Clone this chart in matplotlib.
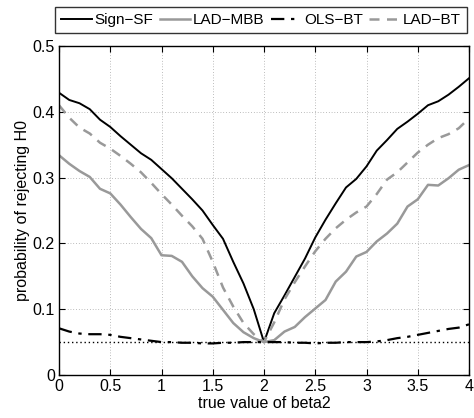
import numpy as np
import matplotlib
matplotlib.use("Agg")
import matplotlib.pyplot as plt

plt.rcParams['font.family'] = ['Liberation Sans', 'DejaVu Sans']

beta2 = np.round(np.arange(0, 4.01, 0.1), 2)

sign_sf = [0.429, 0.418, 0.413, 0.404, 0.388, 0.377, 0.363, 0.350, 0.337, 0.327,
           0.313, 0.299, 0.283, 0.267, 0.250, 0.228, 0.207, 0.172, 0.139, 0.100,
           0.050, 0.094, 0.121, 0.149, 0.177, 0.209, 0.236, 0.261, 0.285, 0.298,
           0.317, 0.341, 0.357, 0.374, 0.385, 0.397, 0.410, 0.416, 0.426, 0.438, 0.451]

lad_mbb = [0.334, 0.321, 0.310, 0.301, 0.283, 0.276, 0.259, 0.240, 0.222, 0.208,
           0.182, 0.181, 0.172, 0.150, 0.132, 0.119, 0.099, 0.079, 0.065, 0.056,
           0.050, 0.053, 0.066, 0.073, 0.088, 0.101, 0.114, 0.142, 0.157, 0.180,
           0.187, 0.203, 0.215, 0.230, 0.256, 0.267, 0.289, 0.288, 0.299, 0.312, 0.319]

ols_bt = [0.071, 0.066, 0.063, 0.062, 0.062, 0.061, 0.058, 0.056, 0.054, 0.052,
          0.050, 0.050, 0.049, 0.049, 0.048, 0.048, 0.049, 0.049, 0.050, 0.050,
          0.050, 0.050, 0.050, 0.049, 0.049, 0.048, 0.049, 0.049, 0.050, 0.050,
          0.050, 0.051, 0.053, 0.056, 0.058, 0.061, 0.064, 0.067, 0.070, 0.072, 0.077]

lad_bt = [0.410, 0.391, 0.376, 0.367, 0.353, 0.344, 0.333, 0.321, 0.308, 0.292,
          0.275, 0.259, 0.242, 0.226, 0.207, 0.172, 0.133, 0.104, 0.079, 0.062,
          0.050, 0.080, 0.115, 0.141, 0.165, 0.188, 0.207, 0.223, 0.236, 0.247,
          0.256, 0.275, 0.297, 0.308, 0.323, 0.338, 0.350, 0.360, 0.366, 0.375, 0.390]

nominal_level = 0.05
x_ticks = [0, 0.5, 1, 1.5, 2, 2.5, 3, 3.5, 4]
x_tick_labels = ["0", "0.5", "1", "1.5", "2", "2.5", "3", "3.5", "4"]
y_ticks = [0, 0.1, 0.2, 0.3, 0.4, 0.5]
y_tick_labels = ["0", "0.1", "0.2", "0.3", "0.4", "0.5"]

fig = plt.figure(figsize=(4.74, 4.18), dpi=100)
ax = fig.add_axes([59/474, 1-375/418, (469-59)/474, (375-46)/418])

gray = '#999999'
l1, = ax.plot(beta2, sign_sf, color='black', lw=1.4, label='Sign−SF')
l2, = ax.plot(beta2, lad_mbb, color=gray, lw=1.8, label='LAD−MBB')
l3, = ax.plot(beta2, ols_bt, color='black', lw=1.6, linestyle=(0, (6, 3, 1.5, 3)), label='OLS−BT')
l4, = ax.plot(beta2, lad_bt, color=gray, lw=1.8, linestyle=(0, (4, 3)), label='LAD−BT')
ax.plot([beta2[0], beta2[-1]], [nominal_level, nominal_level], color='black', lw=1.0,
        linestyle=(0, (1, 2)), zorder=1)

ax.set_xlim(0, 4)
ax.set_ylim(0, 0.5)
ax.set_xticks(x_ticks)
ax.set_xticklabels(x_tick_labels)
ax.set_yticks(y_ticks)
ax.set_yticklabels(y_tick_labels)
ax.tick_params(direction='in', top=True, right=True, labelsize=11.5, length=4, width=0.8, pad=3)
ax.grid(True, color='0.5', linestyle=(0, (1, 3)), lw=0.5)
for s in ax.spines.values():
    s.set_linewidth(1.0)
ax.set_xlabel('true value of beta2', fontsize=11.5, labelpad=1)
ax.set_ylabel('probability of rejecting H0', fontsize=11.5, labelpad=2)

leg = fig.legend(handles=[l1, l2, l3, l4], loc='lower left', ncol=4, mode='expand',
                 bbox_to_anchor=(55/474, 1-33/418, (467-55)/474, 28/418),
                 fontsize=11, frameon=True, fancybox=False, handlelength=2.0,
                 handletextpad=0.2, columnspacing=0.2, borderpad=0.4, borderaxespad=0)
leg.get_frame().set_edgecolor('black')
leg.get_frame().set_linewidth(1.0)

fig.savefig('out.png', dpi=100)
